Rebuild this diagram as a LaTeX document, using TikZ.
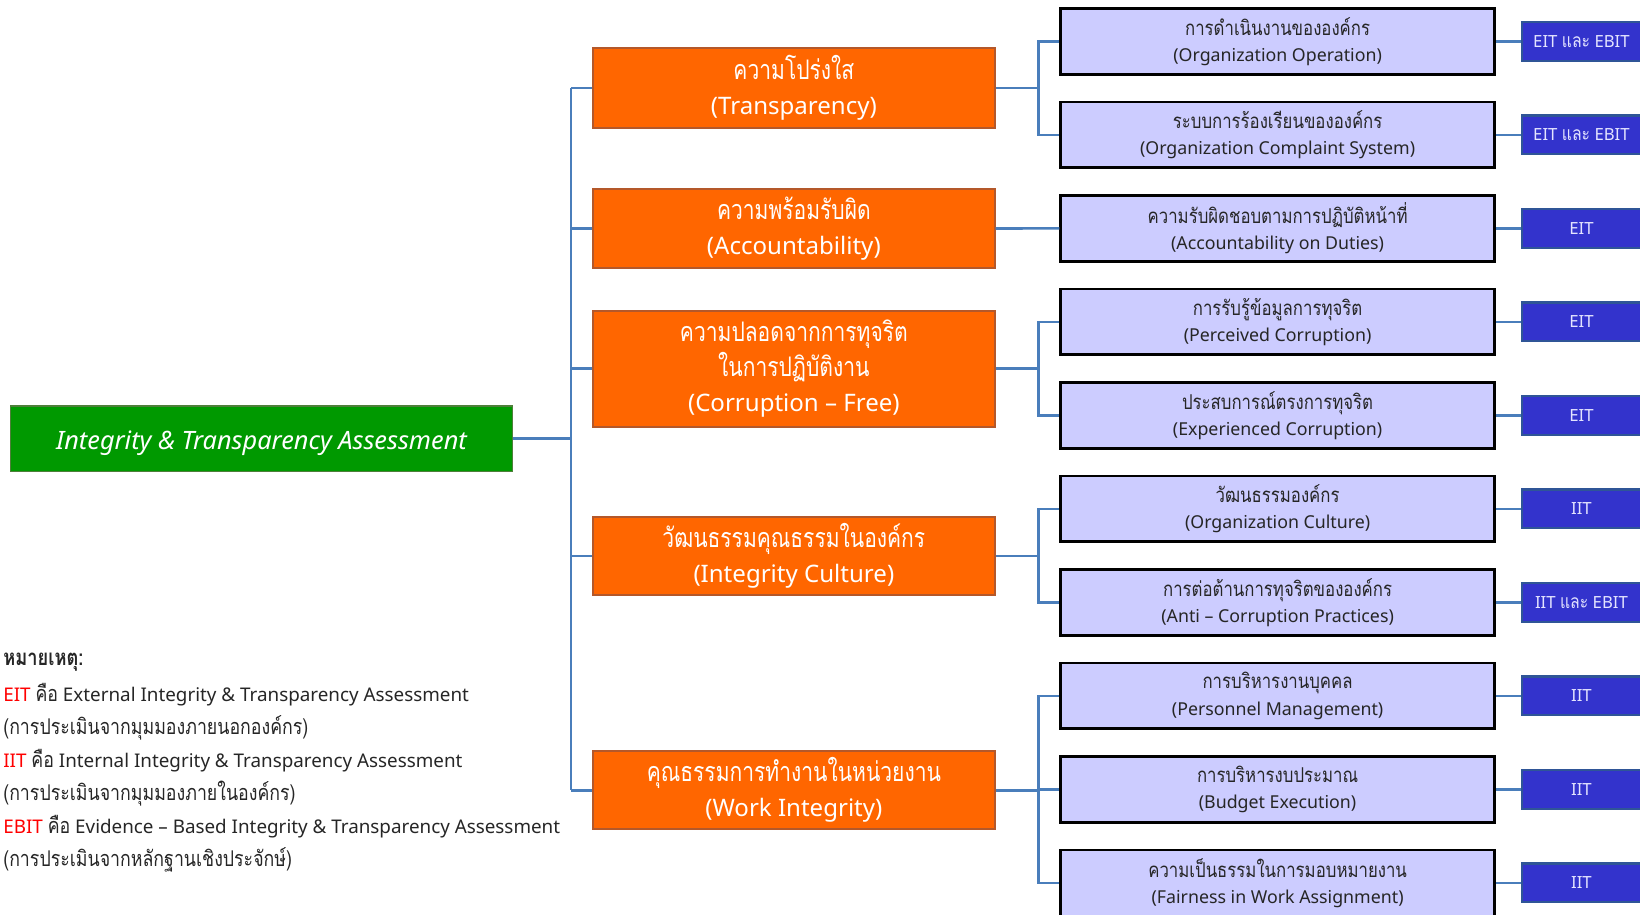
\documentclass[tikz,border=0pt]{standalone}
\usepackage{fontspec}
\setmainfont{Noto Sans}
\newfontfamily\thaif[Script=Thai, Scale=1.15, FakeStretch=0.82]{Loma}
\newfontfamily\thaic[Script=Thai, Scale=1.12, FakeStretch=0.78]{Loma}
\newcommand\tha[1]{{\thaif #1}}
\newcommand\thc[1]{{\thaic #1}}
\definecolor{connc}{HTML}{4A7EBB}
\definecolor{orng}{HTML}{FF6600}
\definecolor{orngb}{HTML}{B4582A}
\definecolor{lav}{HTML}{CCCCFF}
\definecolor{tagf}{HTML}{3333CC}
\definecolor{tagb}{HTML}{2F5597}
\definecolor{tagt}{HTML}{E4E4FF}
\definecolor{grn}{HTML}{009900}
\definecolor{grnb}{HTML}{4E7F3A}
\definecolor{redt}{HTML}{FF0000}
\definecolor{txt}{HTML}{262626}
\begin{document}
\begin{tikzpicture}[x=1pt,y=-1pt,
  conn/.style={draw=connc, line width=2.5pt},
  rootbox/.style={draw=grnb, line width=1.5pt, fill=grn, minimum width=480pt, minimum height=63pt, text=white, font=\fontsize{24.2}{30}\selectfont\itshape, inner sep=0pt, text height=23pt, text depth=2pt},
  catbox/.style={draw=orngb, line width=2pt, fill=orng, minimum width=384pt, text=white, align=center, font=\fontsize{23}{33.5}\selectfont, inner sep=0pt},
  subbox/.style={draw=black, line width=2.5pt, fill=lav, minimum width=415pt, minimum height=63pt, align=center, font=\fontsize{17}{25}\selectfont, text=txt, inner sep=0pt},
  tagbox/.style={draw=tagb, line width=2pt, fill=tagf, minimum width=114pt, minimum height=37pt, text=tagt, font=\fontsize{16}{20}\selectfont, inner sep=0pt},
  legend/.style={anchor=west, text=txt, font=\fontsize{18}{24}\selectfont, inner sep=0pt}
]
\useasboundingbox (0,0) rectangle (1568,874);
% root
\node[rootbox] (root) at (250,419.5) {Integrity \& Transparency Assessment};
% categories
\node[catbox, minimum height=76pt] (c1) at (759,84) {\thc{ความโปร่งใส}\\(Transparency)};
\node[catbox, minimum height=75pt] (c2) at (759,218.5) {\thc{ความพร้อมรับผิด}\\(Accountability)};
\node[catbox, minimum height=111pt] (c3) at (759,352.5) {\thc{ความปลอดจากการทุจริต}\\\thc{ในการปฏิบัติงาน}\\(Corruption – Free)};
\node[catbox, minimum height=75pt] (c4) at (759,531.5) {\thc{วัฒนธรรมคุณธรรมในองค์กร}\\(Integrity Culture)};
\node[catbox, minimum height=75pt] (c5) at (759,755.5) {\thc{คุณธรรมการทำงานในหน่วยงาน}\\(Work Integrity)};
% sub boxes
\node[subbox] (s1) at (1221.5,39.5) {\tha{การดำเนินงานขององค์กร}\\(Organization Operation)};
\node[subbox] (s2) at (1221.5,128.9) {\tha{ระบบการร้องเรียนขององค์กร}\\(Organization Complaint System)};
\node[subbox] (s3) at (1221.5,218.3) {\tha{ความรับผิดชอบตามการปฏิบัติหน้าที่}\\(Accountability on Duties)};
\node[subbox] (s4) at (1221.5,307.7) {\tha{การรับรู้ข้อมูลการทุจริต}\\(Perceived Corruption)};
\node[subbox] (s5) at (1221.5,397.1) {\tha{ประสบการณ์ตรงการทุจริต}\\(Experienced Corruption)};
\node[subbox] (s6) at (1221.5,486.5) {\tha{วัฒนธรรมองค์กร}\\(Organization Culture)};
\node[subbox] (s7) at (1221.5,575.9) {\tha{การต่อต้านการทุจริตขององค์กร}\\(Anti – Corruption Practices)};
\node[subbox] (s8) at (1221.5,665.3) {\tha{การบริหารงานบุคคล}\\(Personnel Management)};
\node[subbox] (s9) at (1221.5,754.7) {\tha{การบริหารงบประมาณ}\\(Budget Execution)};
\node[subbox] (s10) at (1221.5,844.1) {\tha{ความเป็นธรรมในการมอบหมายงาน}\\(Fairness in Work Assignment)};
% tags
\node[tagbox] (t1) at (1512,39.5) {EIT \tha{และ} EBIT};
\node[tagbox] (t2) at (1512,128.9) {EIT \tha{และ} EBIT};
\node[tagbox] (t3) at (1512,218.3) {EIT};
\node[tagbox] (t4) at (1512,307.7) {EIT};
\node[tagbox] (t5) at (1512,397.1) {EIT};
\node[tagbox] (t6) at (1512,486.5) {IIT};
\node[tagbox] (t7) at (1512,575.9) {IIT \tha{และ} EBIT};
\node[tagbox] (t8) at (1512,665.3) {IIT};
\node[tagbox] (t9) at (1512,754.7) {IIT};
\node[tagbox] (t10) at (1512,844.1) {IIT};
% bus coordinates
\coordinate (b1) at (546,0);
\coordinate (b2) at (993,0);
% root to categories
\draw[conn] (root.east) -- (root.east -| b1);
\draw[conn] (c1.west -| b1) -- (c5.west -| b1);
\foreach \c in {c1,c2,c3,c4,c5} \draw[conn] (\c.west -| b1) -- (\c.west);
% categories to sub boxes
\draw[conn] (c1.east) -- (c1.east -| b2);
\draw[conn] (s1.west) -| (b2 |- s2.west) -- (s2.west);
\draw[conn] (c2.east) -- (s3.west);
\draw[conn] (c3.east) -- (c3.east -| b2);
\draw[conn] (s4.west) -| (b2 |- s5.west) -- (s5.west);
\draw[conn] (c4.east) -- (c4.east -| b2);
\draw[conn] (s6.west) -| (b2 |- s7.west) -- (s7.west);
\draw[conn] (c5.east) -- (c5.east -| b2);
\draw[conn] (s8.west) -| (b2 |- s10.west) -- (s10.west);
\draw[conn] (b2 |- s9.west) -- (s9.west);
% sub boxes to tags
\foreach \i in {1,...,10} \draw[conn] (s\i.east) -- (t\i.west);
% legend
\node[legend, font=\fontsize{18.5}{24}\selectfont] (l1) at (3,633) {\thaif\bfseries หมายเหตุ:};
\node[legend] (l2) at (3,664.5) {\textcolor{redt}{EIT} \tha{คือ} External Integrity \& Transparency Assessment};
\node[legend] (l3) at (3,696) {\tha{(การประเมินจากมุมมองภายนอกองค์กร)}};
\node[legend] (l4) at (3,727.5) {\textcolor{redt}{IIT} \tha{คือ} Internal Integrity \& Transparency Assessment};
\node[legend] (l5) at (3,759) {\tha{(การประเมินจากมุมมองภายในองค์กร)}};
\node[legend] (l6) at (3,790.5) {\textcolor{redt}{EBIT} \tha{คือ} Evidence – Based Integrity \& Transparency Assessment};
\node[legend] (l7) at (3,822) {\tha{(การประเมินจากหลักฐานเชิงประจักษ์)}};
\end{tikzpicture}
\end{document}
